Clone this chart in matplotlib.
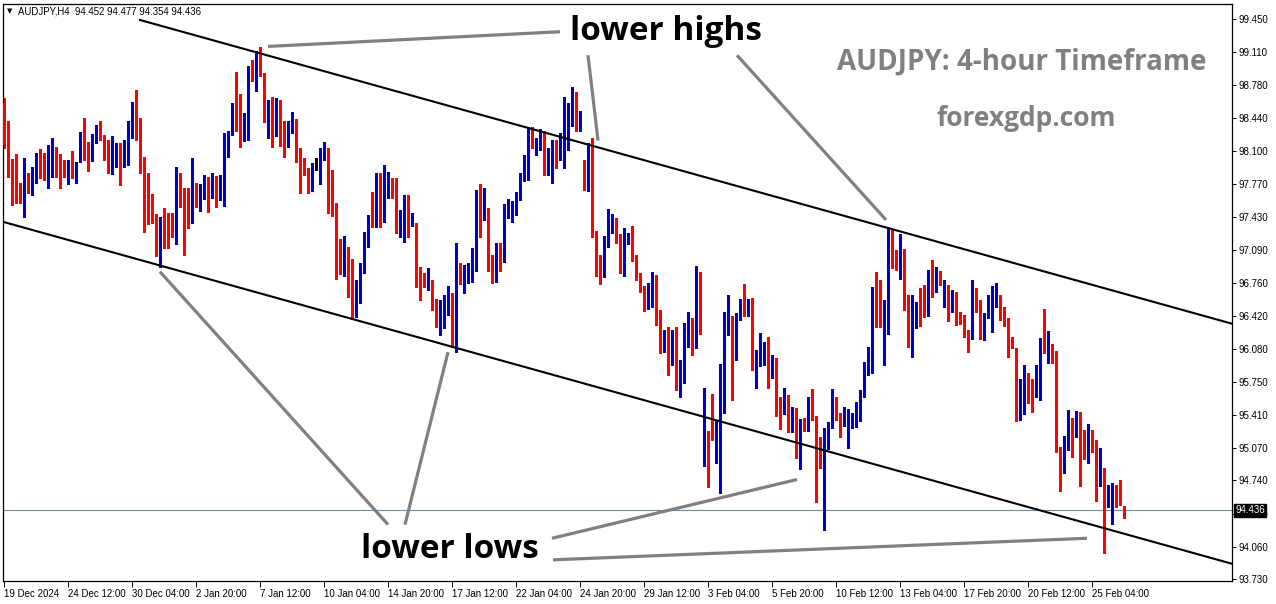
import matplotlib
matplotlib.use("Agg")
import matplotlib.pyplot as plt
import numpy as np

plt.rcParams['font.family'] = ['Liberation Sans', 'DejaVu Sans']

# AUDJPY H4 candles (oldest first)
opens = [
    98.59, 98.06, 97.98, 97.74, 97.68, 97.58, 97.78, 97.66, 97.84, 98.06,
    98.05, 97.91, 98.11, 98.11, 97.94, 97.94, 97.90, 97.99, 97.91, 98.01,
    98.27, 98.14, 98.01, 98.24, 98.29, 98.17, 98.12, 97.88, 98.02, 98.15,
    97.95, 97.99, 98.31, 98.54, 98.26, 97.89, 97.84, 97.47, 97.45, 97.11,
    97.41, 97.35, 97.33, 97.16, 97.84, 97.72, 97.49, 97.46, 97.72, 97.62,
    97.69, 97.77, 97.70, 97.72, 97.61, 97.54, 98.14, 98.28, 98.51, 98.51,
    98.29, 98.35, 98.95, 98.94, 99.04, 98.89, 98.47, 98.43, 98.28, 98.59,
    98.39, 98.15, 98.30, 98.41, 98.05, 97.99, 97.88, 97.69, 97.95, 97.90,
    98.04, 98.09, 97.65, 97.56, 97.04, 96.84, 96.97, 96.63, 96.42, 96.66,
    96.92, 97.26, 97.44, 97.41, 97.77, 97.41, 97.77, 97.72, 97.69, 97.33,
    97.37, 97.63, 97.37, 97.36, 96.81, 96.77, 96.72, 96.77, 96.53, 96.32,
    96.41, 96.48, 96.60, 96.16, 96.95, 96.71, 96.79, 96.86, 96.89, 97.56,
    97.45, 97.51, 96.92, 96.79, 97.16, 96.99, 97.50, 97.47, 97.50, 97.62,
    97.83, 97.93, 98.30, 98.14, 98.19, 98.26, 97.94, 97.97, 98.17, 98.03,
    98.19, 98.21, 98.39, 98.55, 98.39, 97.96, 97.75, 98.15, 97.27, 97.03,
    96.84, 97.19, 97.29, 97.36, 97.20, 97.01, 97.21, 97.19, 97.04, 96.83,
    96.71, 96.56, 96.60, 96.70, 96.47, 96.08, 96.17, 95.95, 96.12, 95.65,
    95.75, 96.29, 96.30, 96.28, 96.82, 94.90, 95.23, 95.23, 95.18, 95.28,
    95.54, 96.29, 96.21, 96.01, 96.41, 96.51, 96.45, 96.43, 95.89, 95.93,
    95.95, 96.08, 95.81, 95.89, 95.54, 95.44, 95.58, 95.25, 95.46, 95.15,
    95.34, 95.27, 95.55, 95.38, 95.00, 94.26, 95.08, 95.29, 95.56, 95.41,
    95.32, 95.33, 95.34, 95.35, 95.37, 95.63, 95.85, 95.94, 96.70, 96.60,
    96.37, 96.41, 97.28, 96.93, 96.91, 97.08, 96.50, 96.14, 96.31, 96.53,
    96.46, 96.43, 96.71, 96.67, 96.85, 96.52, 96.71, 96.47, 96.65, 96.42,
    96.35, 96.28, 96.19, 96.62, 96.58, 96.21, 96.41, 96.55, 96.60, 96.62,
    96.41, 96.33, 96.20, 96.09, 95.40, 95.68, 95.84, 95.68, 95.60, 95.72,
    96.10, 96.05, 96.09, 96.04, 95.07, 94.90, 95.06, 95.28, 95.19, 95.38,
    95.10, 95.03, 95.19, 95.14, 94.73, 94.83, 94.47, 94.52, 94.63, 94.54,
    94.452,
]
highs = [
    98.64, 98.41, 98.02, 98.07, 97.78, 98.03, 97.88, 97.94, 98.08, 98.12,
    98.08, 98.16, 98.24, 98.14, 98.07, 98.01, 98.01, 98.10, 97.99, 98.30,
    98.44, 98.19, 98.28, 98.37, 98.41, 98.27, 98.21, 98.26, 98.18, 98.18,
    98.21, 98.41, 98.60, 98.73, 98.44, 98.04, 97.88, 97.66, 97.46, 97.43,
    97.52, 97.47, 97.47, 97.94, 97.88, 97.73, 97.73, 98.03, 97.78, 97.77,
    97.86, 97.84, 97.88, 97.85, 97.86, 98.29, 98.31, 98.59, 98.91, 98.68,
    98.49, 98.97, 99.03, 99.12, 99.16, 98.90, 98.62, 98.65, 98.64, 98.62,
    98.41, 98.41, 98.50, 98.43, 98.13, 98.03, 97.93, 97.98, 98.03, 98.13,
    98.19, 98.13, 97.91, 97.57, 97.20, 97.24, 97.12, 97.00, 96.79, 96.96,
    97.28, 97.45, 97.68, 97.88, 97.88, 97.96, 97.89, 97.83, 97.83, 97.50,
    97.65, 97.65, 97.47, 97.37, 96.92, 96.86, 96.91, 96.79, 96.59, 96.58,
    96.63, 96.72, 96.65, 97.16, 96.96, 96.94, 96.96, 97.11, 97.70, 97.77,
    97.73, 97.52, 97.04, 97.16, 97.16, 97.56, 97.61, 97.59, 97.68, 97.88,
    98.06, 98.35, 98.35, 98.24, 98.33, 98.31, 98.13, 98.21, 98.21, 98.29,
    98.65, 98.59, 98.76, 98.70, 98.51, 98.01, 98.18, 98.24, 97.29, 97.04,
    97.24, 97.51, 97.46, 97.42, 97.26, 97.32, 97.27, 97.34, 97.04, 96.86,
    96.72, 96.76, 96.87, 96.84, 96.48, 96.28, 96.31, 96.28, 96.31, 95.97,
    96.35, 96.46, 96.40, 96.93, 96.87, 95.68, 95.24, 95.62, 95.36, 95.93,
    96.46, 96.63, 96.42, 96.45, 96.59, 96.75, 96.59, 96.60, 96.07, 96.25,
    96.15, 96.20, 96.02, 95.99, 95.59, 95.68, 95.61, 95.49, 95.48, 95.37,
    95.38, 95.59, 95.67, 95.40, 95.18, 95.28, 95.34, 95.67, 95.59, 95.43,
    95.49, 95.47, 95.43, 95.54, 95.66, 95.95, 96.10, 96.71, 96.87, 96.79,
    96.58, 97.33, 97.31, 97.09, 97.26, 97.10, 96.63, 96.63, 96.56, 96.70,
    96.73, 96.89, 96.99, 96.92, 96.88, 96.79, 96.73, 96.68, 96.66, 96.46,
    96.43, 96.28, 96.79, 96.70, 96.58, 96.45, 96.63, 96.72, 96.76, 96.63,
    96.51, 96.40, 96.20, 96.09, 95.78, 95.92, 95.84, 95.78, 95.92, 96.19,
    96.49, 96.27, 96.13, 96.06, 95.08, 95.19, 95.46, 95.38, 95.45, 95.44,
    95.26, 95.32, 95.26, 95.15, 95.07, 94.87, 94.69, 94.71, 94.69, 94.74,
    94.477,
]
lows = [
    98.13, 97.84, 97.55, 97.57, 97.57, 97.43, 97.67, 97.65, 97.78, 97.83,
    97.81, 97.73, 97.84, 97.84, 97.73, 97.84, 97.77, 97.83, 97.78, 97.99,
    98.01, 97.90, 98.00, 98.18, 98.21, 98.01, 97.88, 97.87, 97.94, 97.76,
    97.94, 97.96, 98.24, 98.21, 97.88, 97.28, 97.36, 97.37, 97.03, 96.92,
    97.11, 97.11, 97.23, 97.15, 97.53, 97.04, 97.32, 97.37, 97.53, 97.49,
    97.61, 97.48, 97.62, 97.53, 97.60, 97.54, 98.04, 98.27, 98.31, 98.14,
    98.20, 98.22, 98.82, 98.72, 98.87, 98.40, 98.24, 98.14, 98.26, 98.15,
    98.04, 98.14, 98.29, 97.99, 97.67, 97.86, 97.67, 97.69, 97.91, 97.77,
    98.01, 97.47, 97.44, 96.80, 96.85, 96.83, 96.61, 96.40, 96.41, 96.55,
    96.86, 97.12, 97.33, 97.33, 97.33, 97.38, 97.62, 97.62, 97.27, 97.22,
    97.17, 97.23, 97.34, 96.71, 96.58, 96.71, 96.68, 96.48, 96.31, 96.22,
    96.30, 96.43, 96.10, 96.05, 96.75, 96.65, 96.76, 96.77, 96.88, 97.22,
    97.40, 96.88, 96.76, 96.77, 96.88, 96.97, 97.42, 97.38, 97.45, 97.60,
    97.80, 97.81, 98.13, 98.06, 98.11, 97.86, 97.86, 97.78, 97.93, 98.01,
    97.93, 98.11, 98.36, 98.31, 98.31, 97.70, 97.69, 97.22, 96.83, 96.75,
    96.82, 97.12, 97.27, 97.16, 96.86, 96.83, 97.15, 96.98, 96.79, 96.66,
    96.47, 96.49, 96.51, 96.33, 96.04, 96.05, 95.82, 95.92, 95.66, 95.59,
    95.73, 96.10, 96.02, 96.09, 96.23, 94.89, 94.67, 95.15, 94.92, 94.61,
    95.43, 96.22, 95.56, 95.97, 96.38, 96.42, 96.42, 95.87, 95.68, 95.91,
    95.92, 95.68, 95.79, 95.40, 95.27, 95.42, 95.23, 95.23, 94.97, 94.86,
    95.24, 95.25, 95.36, 94.52, 94.87, 94.23, 95.06, 95.28, 95.36, 95.18,
    95.30, 95.07, 95.28, 95.29, 95.35, 95.59, 95.82, 95.84, 96.31, 96.31,
    95.92, 96.24, 96.91, 96.89, 96.80, 96.48, 96.10, 96.00, 96.30, 96.32,
    96.41, 96.42, 96.61, 96.66, 96.73, 96.51, 96.37, 96.46, 96.33, 96.34,
    96.20, 96.05, 96.18, 96.46, 96.18, 96.17, 96.40, 96.26, 96.51, 96.38,
    96.32, 96.00, 96.09, 95.35, 95.36, 95.42, 95.53, 95.44, 95.59, 95.56,
    96.04, 95.94, 95.94, 95.03, 94.63, 94.82, 95.05, 94.98, 95.18, 94.68,
    94.96, 94.92, 95.03, 94.53, 94.68, 94.00, 94.47, 94.30, 94.47, 94.49,
    94.354,
]
closes = [
    98.16, 97.98, 97.73, 97.67, 97.59, 97.78, 97.76, 97.85, 98.06, 98.04,
    97.91, 98.12, 98.18, 97.94, 97.93, 97.90, 97.99, 97.91, 97.94, 98.27,
    98.12, 98.01, 98.25, 98.29, 98.28, 98.10, 97.88, 98.06, 98.14, 97.95,
    98.04, 98.32, 98.54, 98.24, 97.88, 97.83, 97.57, 97.43, 97.11, 97.41,
    97.35, 97.32, 97.24, 97.84, 97.72, 97.48, 97.46, 97.72, 97.71, 97.69,
    97.78, 97.69, 97.71, 97.61, 97.78, 98.15, 98.28, 98.51, 98.50, 98.29,
    98.45, 98.95, 98.94, 99.04, 98.88, 98.47, 98.48, 98.28, 98.59, 98.39,
    98.15, 98.30, 98.43, 98.04, 97.98, 97.88, 97.69, 97.95, 97.95, 98.04,
    98.09, 97.64, 97.55, 97.03, 96.90, 96.97, 96.62, 96.42, 96.67, 96.92,
    97.27, 97.44, 97.43, 97.76, 97.42, 97.77, 97.86, 97.68, 97.33, 97.37,
    97.64, 97.37, 97.42, 96.80, 96.76, 96.72, 96.86, 96.52, 96.35, 96.42,
    96.50, 96.60, 96.16, 96.95, 96.81, 96.81, 96.87, 96.89, 97.56, 97.45,
    97.63, 96.92, 96.79, 97.15, 96.99, 97.50, 97.54, 97.51, 97.62, 97.83,
    97.93, 98.30, 98.18, 98.20, 98.26, 97.93, 97.97, 98.17, 98.07, 98.19,
    98.21, 98.39, 98.55, 98.39, 98.46, 97.75, 98.15, 97.27, 97.02, 96.84,
    97.21, 97.29, 97.36, 97.20, 97.01, 97.26, 97.23, 97.04, 96.81, 96.70,
    96.56, 96.61, 96.73, 96.46, 96.08, 96.17, 95.95, 96.12, 95.67, 95.76,
    96.29, 96.30, 96.29, 96.82, 96.24, 95.23, 95.20, 95.18, 95.28, 95.55,
    96.35, 96.30, 96.01, 96.41, 96.51, 96.45, 96.54, 95.89, 95.94, 95.96,
    96.07, 95.82, 95.90, 95.53, 95.44, 95.58, 95.25, 95.45, 95.15, 95.33,
    95.27, 95.54, 95.38, 94.90, 94.89, 95.08, 95.30, 95.56, 95.40, 95.31,
    95.41, 95.35, 95.36, 95.38, 95.63, 95.85, 95.99, 96.70, 96.59, 96.37,
    96.42, 97.28, 96.93, 96.91, 97.07, 96.50, 96.14, 96.32, 96.53, 96.45,
    96.43, 96.71, 96.67, 96.85, 96.75, 96.73, 96.46, 96.65, 96.41, 96.35,
    96.30, 96.20, 96.62, 96.57, 96.21, 96.42, 96.58, 96.61, 96.62, 96.40,
    96.33, 96.19, 96.09, 95.40, 95.69, 95.84, 95.67, 95.60, 95.77, 96.10,
    96.05, 96.09, 96.04, 95.06, 94.90, 95.06, 95.27, 95.19, 95.38, 95.09,
    95.03, 95.19, 95.13, 94.73, 94.83, 94.47, 94.58, 94.63, 94.52, 94.49,
    94.436,
]

date_labels = ["19 Dec 2024", "24 Dec 12:00", "30 Dec 04:00", "2 Jan 20:00",
               "7 Jan 12:00", "10 Jan 04:00", "14 Jan 20:00", "17 Jan 12:00",
               "22 Jan 04:00", "24 Jan 20:00", "29 Jan 12:00", "3 Feb 04:00",
               "5 Feb 20:00", "10 Feb 12:00", "13 Feb 04:00", "17 Feb 20:00",
               "20 Feb 12:00", "25 Feb 04:00"]
price_ticks = [99.450, 99.110, 98.780, 98.440, 98.100, 97.770, 97.430, 97.090,
               96.760, 96.420, 96.080, 95.750, 95.410, 95.070, 94.740, 94.400,
               94.060, 93.730]
last_price = 94.436

# channel trendlines: (bar, price) end points
upper_channel = [(34, 99.44), (307, 96.34)]
lower_channel = [(-0.25, 97.38), (307, 93.89)]

# grey pointer lines: (bar, price) end points
high_pointers = [[(66, 99.17), (139, 99.32)],
                 [(146, 99.08), (148.5, 98.21)],
                 [(183.25, 99.08), (220.5, 97.40)]]
low_pointers = [[(39, 96.87), (96, 94.29)],
                [(111, 96.05), (100.25, 94.29)],
                [(137, 94.15), (198.25, 94.75)],
                [(137.25, 93.93), (270.75, 94.15)]]

o = np.array(opens)
h = np.array(highs)
l = np.array(lows)
c = np.array(closes)
x = np.arange(len(o))

BLUE = '#0000cd'
RED = '#ff0000'
colors = np.where(c > o, BLUE, np.where(c < o, RED, 'black'))

W, H = 1276, 604
fig = plt.figure(figsize=(W / 100, H / 100), dpi=100)
ax = fig.add_axes([3 / W, 1 - 581 / H, 1229 / W, 577 / H])

# wicks then bodies
ax.vlines(x, l, h, colors=colors, linewidth=0.8, zorder=2, antialiased=False)
body_bottom = np.minimum(o, c)
body_height = np.maximum(np.abs(c - o), 0.009)
ax.bar(x, body_height, bottom=body_bottom, width=0.68, color=colors,
       linewidth=0, zorder=3, antialiased=False)

# channel
for line in (upper_channel, lower_channel):
    (x0, y0), (x1, y1) = line
    ax.plot([x0, x1], [y0, y1], color='black', linewidth=1.5, zorder=4)

for seg in high_pointers + low_pointers:
    (x0, y0), (x1, y1) = seg
    ax.plot([x0, x1], [y0, y1], color='#808080', linewidth=2.3,
            solid_capstyle='butt', zorder=4)

# current price line
ax.axhline(last_price, color='#778899', linewidth=0.8, zorder=1)

ax.set_xlim(-0.25, 307)
ax.set_ylim(93.714, 99.603)

ax.yaxis.tick_right()
ax.set_yticks(price_ticks)
ax.set_yticklabels([f'{v:.3f}' for v in price_ticks])
ax.tick_params(axis='y', direction='out', length=3, width=0.7, pad=2,
               labelsize=7, colors='black')
ax.set_xticks(np.arange(0, 16 * len(date_labels), 16))
ax.set_xticklabels(date_labels)
for lab in ax.get_xticklabels():
    lab.set_horizontalalignment('left')
ax.tick_params(axis='x', direction='out', length=4, width=0.7, pad=1.5,
               labelsize=7, colors='black')
for sp in ax.spines.values():
    sp.set_linewidth(0.9)
    sp.set_color('black')

ax.text(1.0025, last_price, f'{last_price:.3f}', transform=ax.get_yaxis_transform(),
        ha='left', va='center', fontsize=7, color='white', zorder=10,
        clip_on=False,
        bbox=dict(boxstyle='square,pad=0.15', facecolor='black', edgecolor='black'))

# header and annotations
fig.text(10 / W, 1 - 11 / H, '\u25bc', fontsize=5, ha='center', va='center',
         family=['DejaVu Sans'])
fig.text(18 / W, 1 - 11 / H, 'AUDJPY,H4  94.452 94.477 94.354 94.436',
         fontsize=6.9, ha='left', va='center')
fig.text(666 / W, 1 - 32 / H, 'lower highs', fontsize=24, ha='center',
         va='center', family=['Open Sans', 'DejaVu Sans'], fontweight='bold')
fig.text(450 / W, 1 - 549 / H, 'lower lows', fontsize=24, ha='center',
         va='center', family=['Open Sans', 'DejaVu Sans'], fontweight='bold')
fig.text(1022 / W, 1 - 62 / H, 'AUDJPY: 4-hour Timeframe', fontsize=20,
         ha='center', va='center', color='#808080',
         family=['Open Sans', 'DejaVu Sans'], fontweight='bold')
fig.text(1026 / W, 1 - 118 / H, 'forexgdp.com', fontsize=19, ha='center',
         va='center', color='#808080', family=['Open Sans', 'DejaVu Sans'],
         fontweight='bold')

fig.savefig('out.png', dpi=100, facecolor='white')
